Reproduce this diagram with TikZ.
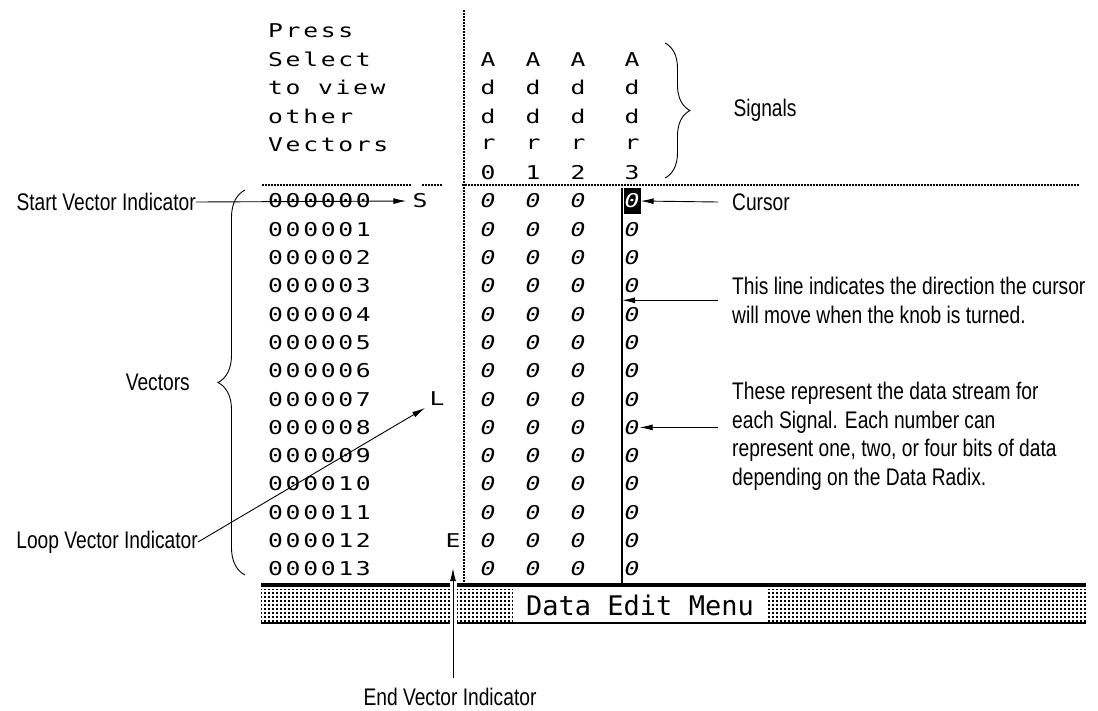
\documentclass[tikz,border=0pt]{standalone}
\usepackage{fontspec}
\usetikzlibrary{calc, arrows.meta, patterns, positioning, decorations.pathreplacing}
\newfontfamily\scrfont[FakeStretch=1.3, LetterSpace=14]{DejaVu Sans Mono}
\newfontfamily\menufont{DejaVu Sans Mono}
\newfontfamily\lblfont[FakeStretch=0.8]{Liberation Sans}

\pgfdeclarepatternformonly{screendots}{\pgfqpoint{-1pt}{-1pt}}{\pgfqpoint{5pt}{5pt}}{\pgfqpoint{4pt}{4pt}}
{
    \pgfpathrectangle{\pgfpointorigin}{\pgfqpoint{1.7pt}{1.7pt}}
    \pgfusepath{fill}
}

\tikzset{
  scr/.style={font={\scrfont\fontsize{19}{19}\selectfont}, inner sep=0pt},
  scrit/.style={scr, font={\scrfont\itshape\fontsize{19}{19}\selectfont}},
  lbl/.style={font={\lblfont\fontsize{24}{28.5}\selectfont}, inner sep=0pt, align=left},
  pointer/.style={-{Latex[length=13pt,width=6pt]}, line width=0.9pt},
  dotline/.style={line width=1.5pt, dash pattern=on 1.5pt off 1.5pt},
  bracket/.style={decorate, line width=0.9pt}
}

\begin{document}
\begin{tikzpicture}[x=1pt,y=-1pt]
\useasboundingbox (0,0) rectangle (1098,710);
\newcommand{\RowH}{28.3}
\newcommand{\RowTop}{201}

\foreach \t [count=\i from 0] in {Press,Select,to view,other,Vectors}
{
    \node[scr, anchor=west] (hdr\i) at (268, {\RowTop+\RowH*(\i-6)}) {\t};
}

\foreach \c [count=\j from 0] in {488,533,578,632}
{
    \foreach \ch [count=\i from 1] in {A,d,d,r,\j}
    {
        \node[scr] (sig\j-\i) at (\c, {\RowTop+\RowH*(\i-6)}) {\ch};
    }
}

\foreach \k in {0,...,13}
{
    \node[scr, anchor=west] (vec\k) at (268, {\RowTop+\RowH*\k}) {\ifnum\k<10 00000\k\else 0000\k\fi};
    \foreach \c [count=\j from 0] in {488,533,578,632}
    {
        \node[scrit] (d\k-\j) at (\c, {\RowTop+\RowH*\k}) {0};
    }
}

\node[scrit, fill=black, text=white, minimum width=17pt, minimum height=26pt] (cur) at (d0-3) {0};
\coordinate (curtop) at (622,188);
\coordinate (curbot) at (622,583);
\draw[line width=2.5pt] (curtop) -- (curbot);

\node[scr] (startS) at (420,201) {S};
\node[scr] (loopL) at (437,399) {L};
\node[scr] (endE) at (453,541) {E};

\draw[dotline] (464,10) -- (464,583);
\draw[dotline] (262,185) -- (412,185);
\draw[dotline] (422,185) -- (443,185);
\draw[dotline] (462,185) -- (1080,185);

\draw[line width=4pt] (261,585) -- (1086,585);
\fill[pattern=screendots] (261,589) rectangle (1086,622);
\fill[white] (513,588) rectangle (767,622);
\draw[line width=2pt] (261,623) -- (1086,623);
\node[font={\menufont\fontsize{27}{27}\selectfont}, inner sep=0pt] (menu) at (640,605) {Data Edit Menu};
\draw[white, line width=7pt] (453,580) -- (453,628);

\node[lbl] (siglbl) at (765,110) {Signals};
\draw[bracket, decoration={brace, amplitude=25pt}] (665,43) -- (665,178);

\node[lbl, anchor=east] (veclbl) at (190,382) {Vectors};
\draw[bracket, decoration={brace, amplitude=27pt}] (245,575) -- (245,190);

\node[lbl, anchor=east] (startlbl) at (196,202) {Start Vector Indicator};
\draw[pointer, shorten >=6pt] (startlbl.east) -- (startS.west);

\node[lbl, anchor=west] (curlbl) at (732,202) {Cursor};
\draw[pointer] ([xshift=-14pt]curlbl.west) -- (cur.east);

\node[lbl, anchor=north west] (dirlbl) at (732,277) {This line indicates the direction the cursor\\will move when the knob is turned.};
\draw[pointer] ([xshift=-14pt]dirlbl.west) -- (dirlbl.west -| curtop);

\node[lbl, anchor=north west] (datalbl) at (732,382) {These represent the data stream for\\each Signal. Each number can\\represent one, two, or four bits of data\\depending on the Data Radix.};
\draw[pointer] ([xshift=-14pt]datalbl.west |- d8-3) -- (d8-3.east);

\node[lbl, anchor=east] (looplbl) at (198,542) {Loop Vector Indicator};
\coordinate (looptip) at (425,408);
\draw[pointer] (looplbl.east) -- (looptip);

\node[lbl] (endlbl) at (450,697) {End Vector Indicator};
\draw[pointer] ([yshift=10pt]endlbl.north -| endE) -- ([yshift=-20pt]endE.south);
\end{tikzpicture}
\end{document}
